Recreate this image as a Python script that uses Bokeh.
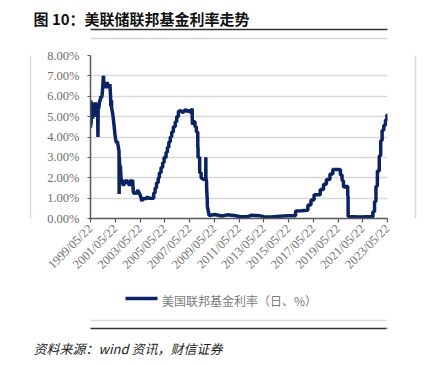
import pandas as pd
from bokeh.plotting import figure
from bokeh.models import (FixedTicker, DatetimeTickFormatter, PrintfTickFormatter, Range1d,
                          ColumnDataSource, LinearAxis, Title)
from bokeh.embed import file_html
from bokeh.resources import INLINE
import math

title_text = "图 10：美联储联邦基金利率走势"
source_text = "资料来源：wind 资讯，财信证券"
series_name = "美国联邦基金利率（日、%）"

tick_dates = ["1999-05-22", "2001-05-22", "2003-05-22", "2005-05-22", "2007-05-22",
              "2009-05-22", "2011-05-22", "2013-05-22", "2015-05-22", "2017-05-22",
              "2019-05-22", "2021-05-22", "2023-05-22"]
y_ticks = [0, 1, 2, 3, 4, 5, 6, 7, 8]

dates = [
    "1999-05-22", "1999-06-01", "1999-06-08", "1999-06-20", "1999-07-01", "1999-07-10",
    "1999-07-25", "1999-08-10", "1999-08-25", "1999-09-05", "1999-09-20", "1999-10-05",
    "1999-10-20", "1999-11-05", "1999-11-25", "1999-12-15", "1999-12-28", "2000-01-05",
    "2000-01-20", "2000-02-10", "2000-03-01", "2000-03-25", "2000-04-10", "2000-05-01",
    "2000-05-20", "2000-06-01", "2000-06-10", "2000-06-20", "2000-07-05", "2000-07-25",
    "2000-08-15", "2000-09-05", "2000-09-25", "2000-10-15", "2000-11-05", "2000-11-25",
    "2000-12-15", "2001-01-03", "2001-01-10", "2001-01-31", "2001-02-05", "2001-03-01",
    "2001-03-25", "2001-04-20", "2001-05-16", "2001-06-01", "2001-06-28", "2001-07-20",
    "2001-08-22", "2001-09-10", "2001-09-14", "2001-09-20", "2001-10-03", "2001-10-20",
    "2001-11-07", "2001-12-11", "2001-12-20", "2002-01-15", "2002-02-15", "2002-03-15",
    "2002-04-15", "2002-05-15", "2002-06-15", "2002-07-15", "2002-08-15", "2002-09-15",
    "2002-10-15", "2002-11-06", "2002-12-15", "2003-01-15", "2003-02-15", "2003-03-15",
    "2003-04-15", "2003-05-15", "2003-06-25", "2003-07-15", "2003-08-15", "2003-09-15",
    "2003-10-15", "2003-11-15", "2003-12-15", "2004-02-15", "2004-04-15", "2004-06-29",
    "2004-06-30", "2004-08-09", "2004-08-10", "2004-09-20", "2004-09-21", "2004-11-09",
    "2004-11-10", "2004-12-13", "2004-12-14", "2005-02-01", "2005-02-02", "2005-03-21",
    "2005-03-22", "2005-05-02", "2005-05-03", "2005-06-29", "2005-06-30", "2005-08-08",
    "2005-08-09", "2005-09-19", "2005-09-20", "2005-10-31", "2005-11-01", "2005-12-12",
    "2005-12-13", "2006-01-30", "2006-01-31", "2006-03-27", "2006-03-28", "2006-05-09",
    "2006-05-10", "2006-06-28", "2006-06-29", "2006-09-01", "2006-11-15", "2007-01-20",
    "2007-03-15", "2007-05-10", "2007-07-01", "2007-08-09", "2007-08-10", "2007-08-20",
    "2007-09-17", "2007-09-18", "2007-10-30", "2007-10-31", "2007-12-10", "2007-12-11",
    "2008-01-21", "2008-01-22", "2008-01-29", "2008-01-30", "2008-03-17", "2008-03-18",
    "2008-04-29", "2008-04-30", "2008-08-01", "2008-09-12", "2008-09-15", "2008-09-17",
    "2008-10-07", "2008-10-08", "2008-10-28", "2008-10-29", "2008-12-15", "2008-12-16",
    "2009-06-01", "2010-01-01", "2010-06-01", "2011-01-01", "2011-06-01", "2012-01-01",
    "2012-06-01", "2013-01-01", "2013-06-01", "2014-01-01", "2014-06-01", "2015-01-01",
    "2015-06-01", "2015-12-16", "2015-12-17", "2016-06-01", "2016-12-14", "2016-12-15",
    "2017-03-15", "2017-03-16", "2017-06-14", "2017-06-15", "2017-12-13", "2017-12-14",
    "2018-03-21", "2018-03-22", "2018-06-13", "2018-06-14", "2018-09-26", "2018-09-27",
    "2018-12-19", "2018-12-20", "2019-04-01", "2019-07-31", "2019-08-01", "2019-09-18",
    "2019-09-19", "2019-10-30", "2019-10-31", "2020-03-03", "2020-03-04", "2020-03-15",
    "2020-03-16", "2020-09-01", "2021-03-01", "2021-09-01", "2022-03-16", "2022-03-17",
    "2022-05-04", "2022-05-05", "2022-06-15", "2022-06-16", "2022-07-27", "2022-07-28",
    "2022-09-21", "2022-09-22", "2022-11-02", "2022-11-03", "2022-12-14", "2022-12-15",
    "2023-02-01", "2023-02-02", "2023-03-22", "2023-03-23", "2023-05-03", "2023-05-04",
    "2023-05-22",
]

rates = [
    4.45, 5.80, 4.60, 5.50, 5.00, 5.70,
    4.90, 5.30, 5.60, 5.10, 5.50, 5.00,
    5.70, 5.30, 5.60, 5.50, 4.00, 5.60,
    5.40, 5.70, 5.80, 6.00, 5.90, 6.10,
    6.50, 6.90, 7.00, 6.40, 6.70, 6.50,
    6.60, 6.40, 6.70, 6.50, 6.60, 6.40,
    6.60, 6.00, 5.50, 5.80, 5.40, 5.20,
    4.90, 4.50, 4.10, 3.90, 3.70, 3.80,
    3.50, 3.30, 1.20, 3.00, 2.40, 2.60,
    2.00, 1.70, 1.90, 1.60, 1.80, 1.70,
    1.90, 1.70, 1.80, 1.60, 1.90, 1.70,
    1.90, 1.30, 1.20, 1.30, 1.20, 1.40,
    1.30, 1.20, 1.00, 0.85, 1.00, 0.95,
    1.00, 0.95, 1.05, 1.00, 1.00, 1.00,
    1.25, 1.25, 1.50, 1.50, 1.75, 1.75,
    2.00, 2.00, 2.25, 2.25, 2.50, 2.50,
    2.75, 2.75, 3.00, 3.00, 3.25, 3.25,
    3.50, 3.50, 3.75, 3.75, 4.00, 4.00,
    4.25, 4.25, 4.50, 4.50, 4.75, 4.75,
    5.00, 5.00, 5.25, 5.30, 5.20, 5.35,
    5.25, 5.30, 5.20, 5.40, 5.00, 4.60,
    4.80, 4.75, 4.75, 4.50, 4.50, 4.25,
    4.25, 3.50, 3.50, 3.00, 3.00, 2.25,
    2.25, 2.00, 1.90, 2.00, 3.00, 2.00,
    1.80, 1.50, 0.90, 0.60, 0.20, 0.15,
    0.20, 0.12, 0.18, 0.15, 0.10, 0.08,
    0.16, 0.14, 0.09, 0.07, 0.10, 0.12,
    0.13, 0.14, 0.37, 0.38, 0.41, 0.66,
    0.66, 0.91, 0.91, 1.16, 1.16, 1.42,
    1.42, 1.68, 1.68, 1.91, 1.91, 2.18,
    2.18, 2.40, 2.41, 2.40, 2.13, 2.13,
    1.90, 1.83, 1.55, 1.58, 1.10, 1.10,
    0.10, 0.09, 0.07, 0.08, 0.08, 0.33,
    0.33, 0.83, 0.83, 1.58, 1.58, 2.33,
    2.33, 3.08, 3.08, 3.83, 3.83, 4.33,
    4.33, 4.58, 4.58, 4.83, 4.83, 5.08,
    5.08,
]

x = pd.to_datetime(dates)
source = ColumnDataSource(dict(x=x, y=rates))
tick_ms = [pd.Timestamp(d).value / 1e6 for d in tick_dates]

# ---- page geometry (pixels)
W, H = 435, 365
FL, FR, FT, FB = 90, 387, 55, 218                 # plot frame
BOX_L, BOX_R, BOX_T, BOX_B = 31, 415, 38, 323     # light grey chart box
RULE_L, RULE_R = 22, 425                           # dark rules
KEY_L, KEY_R, KEY_TEXT_MID = 125, 157, 239         # legend key line and text centre
LINE_COLOR = "#0b2461"
BOX_COLOR = "#dadada"
RULE_COLOR = "#303030"

p = figure(width=W, height=H, output_backend="svg", toolbar_location=None,
           x_axis_type="datetime",
           x_range=Range1d(tick_ms[0], tick_ms[-1]), y_range=Range1d(0, 8),
           min_border_left=FL, min_border_right=W - FR,
           min_border_top=FT, min_border_bottom=H - FB)
p.outline_line_color = None
# pixel ranges used only for the decoration rules
p.extra_x_ranges = {"px": Range1d(FL, FR)}
p.extra_y_ranges = {"py": Range1d(FB, FT)}

r = p.line("x", "y", source=source, line_color=LINE_COLOR, line_width=3.5)

serif = "Liberation Serif"
tick_color = "#6e6e6e"
axis_color = "#595959"

p.xaxis.ticker = FixedTicker(ticks=tick_ms)
p.xaxis.formatter = DatetimeTickFormatter(days="%Y/%m/%d", months="%Y/%m/%d", years="%Y/%m/%d",
                                          hours="%Y/%m/%d", minutes="%Y/%m/%d")
p.xaxis.major_label_orientation = math.pi / 4
p.yaxis.ticker = FixedTicker(ticks=y_ticks)
p.yaxis.formatter = PrintfTickFormatter(format="%.2f%%")
for ax in (p.xaxis, p.yaxis):
    ax.axis_line_color = axis_color
    ax.axis_line_width = 1.5
    ax.major_tick_line_color = axis_color
    ax.major_tick_line_width = 1.2
    ax.major_tick_in = 0
    ax.minor_tick_line_color = None
    ax.major_label_text_font = serif
    ax.major_label_text_font_size = "12.5px"
    ax.major_label_text_color = tick_color
p.xaxis.major_tick_out = 4
p.yaxis.major_tick_out = 3
p.yaxis.major_label_standoff = 8
p.xaxis.major_label_standoff = 4
p.xgrid.grid_line_color = None
p.ygrid.grid_line_color = "#d9d9d9"
p.ygrid.grid_line_width = 1.3


def deco_axis(horizontal, bounds=None, line_color=None, line_width=1.5, gap=0):
    """Axis used only as a rule: its line spans `bounds`; `gap` (white tick) sets panel size."""
    if horizontal:
        kw = dict(x_range_name="px", ticker=FixedTicker(ticks=[FR - 1]))
    else:
        kw = dict(y_range_name="py", ticker=FixedTicker(ticks=[FT + 1]))
    if bounds is not None:
        kw["bounds"] = bounds
    return LinearAxis(axis_line_color=line_color, axis_line_width=line_width,
                      major_tick_out=int(gap), major_tick_in=0,
                      major_tick_line_color="white" if gap else None,
                      major_tick_line_width=1, minor_tick_line_color=None,
                      major_label_text_font_size="0px", major_label_standoff=0,
                      major_label_text_alpha=0, **kw)


# above: spacer, grey box top, dark rule, title
p.add_layout(deco_axis(True, gap=FT - BOX_T), "above")
p.add_layout(deco_axis(True, (BOX_L, BOX_R), BOX_COLOR, 1.5, gap=9), "above")
p.add_layout(deco_axis(True, (RULE_L, RULE_R), RULE_COLOR, 1.6), "above")
p.add_layout(Title(text=title_text, align="left", offset=33 - FL, standoff=2,
                   vertical_align="bottom", text_font="Noto Sans CJK SC",
                   text_font_style="bold", text_font_size="15px", text_color="#111111"),
             "above")

# left / right: grey box sides
p.add_layout(deco_axis(False, gap=14), "left")
p.add_layout(deco_axis(False, (BOX_T, BOX_B), BOX_COLOR, 1.5), "left")
p.add_layout(deco_axis(False, gap=BOX_R - FR), "right")
p.add_layout(deco_axis(False, (BOX_T, BOX_B), BOX_COLOR, 1.5), "right")

# below: spacer, legend key line, legend text, spacer, grey box bottom, dark rule, source
p.add_layout(deco_axis(True, gap=19), "below")
p.add_layout(LinearAxis(x_range_name="px", ticker=FixedTicker(ticks=[(KEY_L + KEY_R) / 2]),
                        bounds=(KEY_L, KEY_R), axis_line_color=LINE_COLOR, axis_line_width=3.5,
                        major_tick_out=0, major_tick_in=0, major_tick_line_color=None,
                        minor_tick_line_color=None, major_label_text_font_size="0px",
                        major_label_standoff=0, major_label_text_alpha=0), "below")
p.add_layout(LinearAxis(x_range_name="px", ticker=FixedTicker(ticks=[KEY_TEXT_MID]),
                        bounds=(0, W), axis_line_color=None, major_tick_out=0, major_tick_in=0,
                        major_tick_line_color=None, minor_tick_line_color=None,
                        major_label_overrides={KEY_TEXT_MID: series_name},
                        major_label_standoff=-7, major_label_text_font="Noto Sans CJK SC",
                        major_label_text_font_size="12px", major_label_text_color="#7a7a7a"),
             "below")
p.add_layout(deco_axis(True, gap=9), "below")
p.add_layout(deco_axis(True, (BOX_L, BOX_R), BOX_COLOR, 1.5, gap=8), "below")
p.add_layout(deco_axis(True, (RULE_L, RULE_R), RULE_COLOR, 1.6, gap=10), "below")
p.add_layout(Title(text=source_text, align="left", offset=33 - FL, standoff=0,
                   vertical_align="top", text_font="Noto Sans CJK SC",
                   text_font_style="italic", text_font_size="13px", text_color="#222222"),
             "below")

open("out.html", "w").write(file_html(p, INLINE))
